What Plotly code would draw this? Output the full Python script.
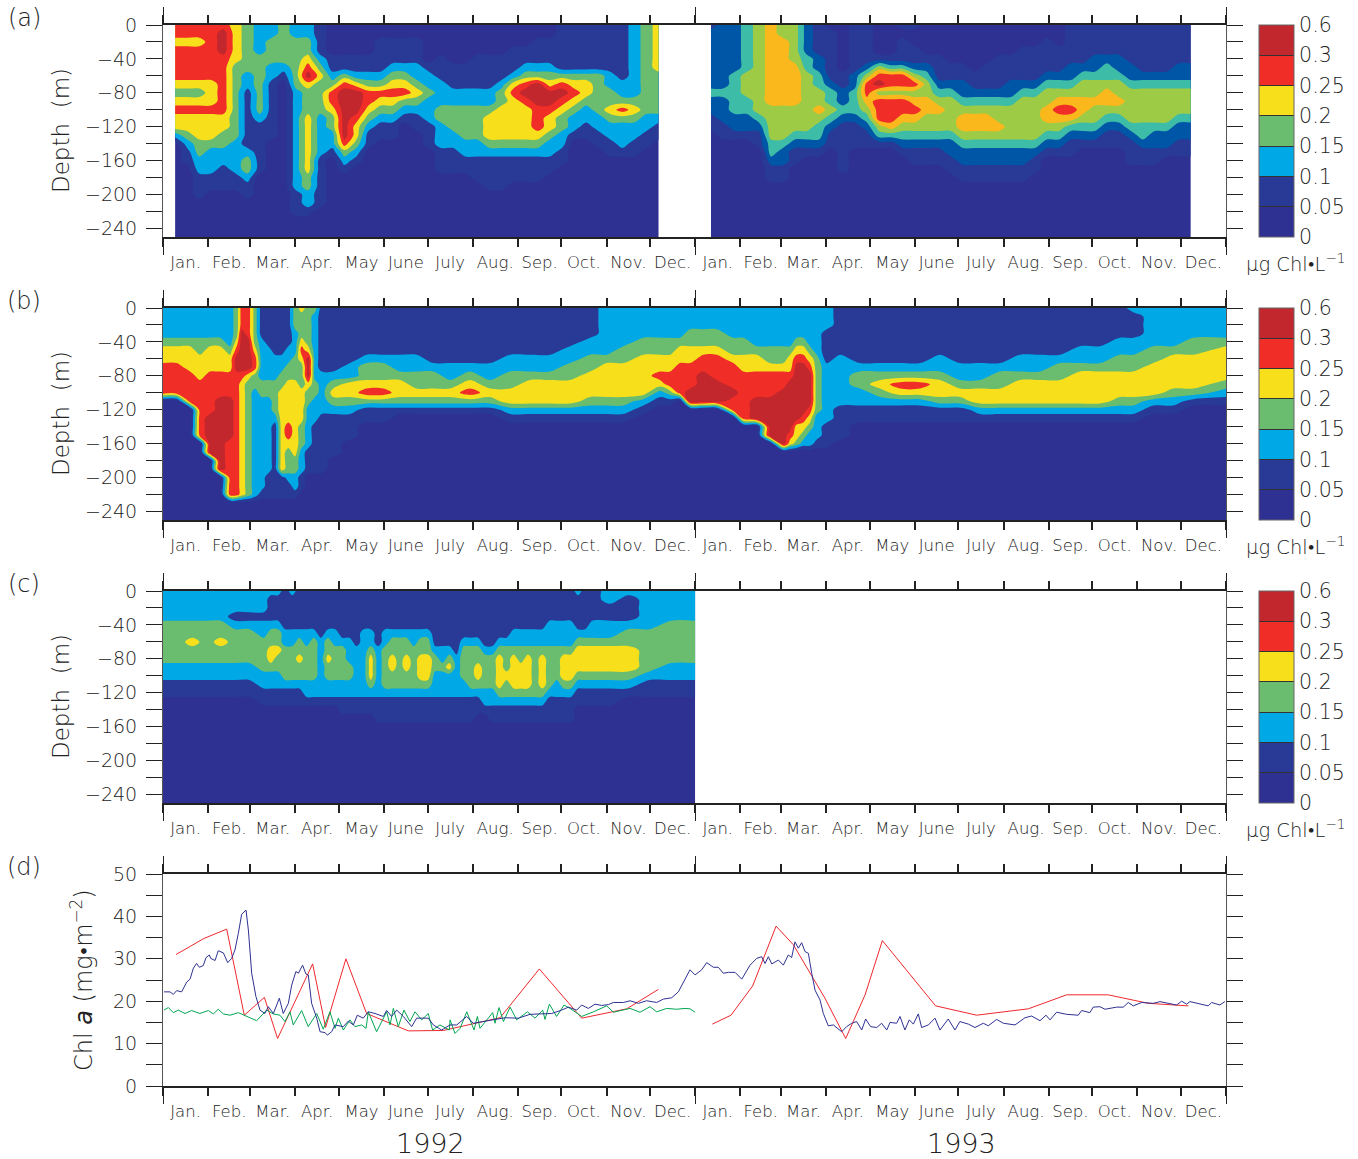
import plotly.graph_objects as go

W, H = 1358, 1159
MONTHS = ["Jan.", "Feb.", "Mar.", "Apr.", "May", "June", "July", "Aug.", "Sep.", "Oct.", "Nov.", "Dec."] * 2
MONTH_START = [0, 31, 60, 91, 121, 152, 182, 213, 244, 274, 305, 335, 366, 397, 425, 456, 486, 517, 547, 578, 609, 639, 670, 700, 731]
YEAR_TICKS = [0, 366, 731]
DEPTHS = [0, -10, -20, -30, -40, -50, -60, -70, -80, -90, -100, -110, -120, -130, -140, -150, -160, -170, -180, -190, -200, -210, -220, -230, -250]
LEVEL_LABELS = ["0", "0.05", "0.1", "0.15", "0.2", "0.25", "0.3", "0.6"]
COLORS = ["#2e3192", "#283a96", "#00a9e6", "#6abd6e", "#f7e01b", "#f02d27", "#c1272d"]
COLORS_A93 = ["#2e3192", "#283a96", "#0056a6", "#3dbca8", "#9ecb45", "#fbb81d", "#f02d27", "#c1272d"]

# Each string is one time column of colour-band indices, top (0 m) to bottom; trailing zeros omitted
DAYS_A92 = [8.3, 16.6, 24.9, 33.2, 41.5, 49.9, 58.2, 66.5, 74.8, 83.1, 91.4, 99.7, 108.1, 116.4, 124.7, 133, 141.3, 149.6, 157.9, 166.3, 174.6, 182.9, 191.2, 199.5, 207.8, 216.1, 224.5, 232.8, 241.1, 249.4, 257.7, 266, 274.3, 282.7, 291, 299.3, 307.6, 315.9, 324.2, 332.5, 340.9]
BANDS_A92 = ["55455554345442", "55455554345443211", "554555543454443322111", "55555554445444322211", "56665555555443322111",
             "44444333333333222211", "333333221111111233211", "222233333332111111", "22333221111111", "3333321",
             "22333333222222222222111", "22334564333444444433221", "1111234333322222111111", "0000112355433221", "000011356666665321",
             "00001124666544321", "000011235543211", "00111123543211", "00111234543211", "001112345321",
             "0011122343211", "000001223222111", "000011122233222111", "000001112233322111", "000001112233332211",
             "0000111122333322111", "00001111223444321111", "00001112334444321111", "0001112454444432111", "0001123565444432111",
             "0011123666555432111", "001112346654432211", "11111135654332211", "11111134543221", "11111134432211",
             "111111333332211", "1111112233432211", "1111111223532221", "2222222223432211", "333333333332211", "44444433333211"]
DAYS_A93 = [376.8, 385.1, 393.3, 401.6, 409.8, 418.1, 426.3, 434.6, 442.8, 451.1, 459.3, 467.6, 475.8, 484.1, 492.3, 500.6, 508.8, 517.1, 525.3, 533.6, 541.8, 550.1, 558.3, 566.6, 574.8, 583.1, 591.3, 599.6, 607.8, 616.1, 624.3, 632.6, 640.8, 649.1, 657.3, 665.6, 673.8, 682.1, 690.3, 698.6, 706.8]
BANDS_A93 = ["1222222232211", "22222222322211", "22222233333221", "33333344433221", "444444444443211",
             "5555555555444433211", "4455555555444432211", "44444555554443211", "2222334444444321", "1111223344543321",
             "011111123343211", "000000112232111111", "111111223332111", "111112466543211", "000014674666431",
             "000013664666531", "1011136646654321", "10011246456543211", "00001234455443211", "00001112345443211",
             "000001123444432211", "0000011223455432211", "0000001123455432211", "0000011123455432211", "0000111123445432211",
             "0000111223444432211", "0001111234444432211", "000111123444443211", "0011112344554321", "0001112345654321",
             "1111122345653211", "111112344554321", "111122344544321", "111123345543211", "111122344543211",
             "11111223444432111", "11111123444433211", "11111123444432211", "1111112344443221", "1111122344432211", "1111122344432211"]
DAYS_B = [0, 9.4, 18.6, 25.4, 32.3, 39.2, 46.1, 50.7, 54.1, 58.7, 63.3, 67.8, 72.4, 77, 81.6, 86.2, 90.8, 95.3, 99.9, 104.5, 109.1, 117.1, 128.6, 140, 151.5, 163, 174.4, 185.9, 197.3,
          211.1, 224.9, 238.7, 252.4, 266.2, 279.9, 293.7, 305.1, 316.6, 330.3, 341.8, 348.7, 355.5, 362.4, 371.6, 380.8, 392.2, 399.1, 408.3, 417.4, 426.6, 431.2, 435.8, 440.4, 444.9, 449.5, 456.4, 465.6, 479.3, 493.1, 506.8,
          520.6, 534.3, 548, 561.8, 575.6, 589.3, 603, 616.8, 630.6, 644.3, 658, 667.2, 681, 694.7, 708.5, 731]
BANDS_B = ["22223445555", "22223445555", "222234445555", "2222334445555555", "222234445555566666", "22223444555666666666",
           "22222344555666665555555", "33334566555555555555555", "55566666544444444444444", "55556666433333333333333",
           "33333455332222222222222", "11112222233222222222221", "11111222233222222222111", "11111122233332111111111",
           "11111122334444444444111", "11111223344444554333211", "33322233344444444433221", "4333454333444433322211",
           "33333466643322222111", "32222222233222111111", "11111111222221111111", "111111112343211111",
           "1111111224432111", "11111123345311", "11111123345311", "1111112234431", "1111112233431", "1111111233431", "1111111223431",
           "1111111234531", "1111111223431", "11111122334421", "11111122344421", "11111122344421", "11111223344421", "11112233444321",
           "22222234444321", "22222334444321", "2222334444421", "222233445421", "222233445531", "22223445555", "222334455566",
           "222334556666", "222334555666", "2222334555655", "22223344555555", "22222344555666", "2222233455566666", "22222334556666666",
           "22222344566666654", "22223456666666443", "22223456666665432", "22222345666654322", "22222233333332221", "22211112222222111",
           "1111112222221111", "11111112332211", "11111112343211", "11111112354211",
           "11111112354211", "11111122344311", "11111112234311", "11111112234421", "11111112334421", "11111122344421", "11111122344421",
           "11111123344421", "11111223444421", "11111223444421", "11112233444321", "21112233444321", "2222233444421", "2222234444321", "222233444431", "222234444321"]
DAYS_C = [0, 10.3, 20.1, 30, 39.8, 49.6, 59.4, 69.3, 74.2, 79.1, 84, 88.9, 93.8, 98.7, 103.6, 108.6, 113.5, 118.4, 123.3, 128.2, 133.1, 138, 142.9, 147.9, 152.8, 157.7, 162.6, 167.5, 172.4, 177.3, 182.2, 187.2, 192.1, 197, 201.9, 206.8, 211.7, 216.6, 221.5, 226.5, 231.4, 236.3, 241.2, 246.1, 251, 255.9, 260.8, 265.8, 270.7, 275.6, 280.5, 285.4, 290.3, 295.2, 307.5, 319.8, 334.5, 349.3, 366]
BANDS_C = ["2222333332211", "2222333332211", "2222334332211", "2222333332211", "2222334332211", "2221233332211", "2221233332211",
           "22212233332211", "21112334432211", "21112334332211", "11111223333211", "21111223333211", "11111233433211", "11111223333221",
           "11111233333221", "11111122222221", "11111233433221", "11111223333221", "111111233332211", "111111222332211", "111111122222211",
           "111112222222211", "111112234443211", "1111111222222111", "1111122333332111", "1111123344332111", "1111123333332111",
           "1111123344332111", "1111122333332111", "1111123344432111", "1111123344432111", "1111111233222111", "1111111223222111",
           "1111111234222111", "1111111122222111", "1111112333322111", "1111112333332111", "111111233443211", "111111123333221",
           "1111111233332211", "1111112344443211", "1111112333433211", "1111122344443211", "1111122334443211", "1111122344443211",
           "1111122333333211", "1111122344443211", "1111222333332111", "1111222333322111", "1111222344432111", "1111222344432111",
           "21111234443211", "11111234443211", "11112234443211", "22112234443211", "2111233444321", "2222233333211", "2222333332211", "2222333332211"]

DAYS_BLUE = [0.7, 4.8, 7.1, 9.4, 12.8, 16.3, 18.6, 20.9, 23.1, 25, 27.7, 29.6, 31.9, 32.8, 35.8, 38, 41.5, 44.5, 47.2, 49.5, 51.8, 54.1, 57.1, 58.7, 61, 63.9, 66.7, 70.1, 72.4, 75.9, 80, 82.7, 86.2, 88.5, 91.4, 93.1, 96, 98.3, 99.9, 102.2, 105.7, 108, 111.4, 113, 116, 118.3, 124, 127.4, 130.9, 133.6, 137.7, 141.2, 145.8, 151.5, 153.8, 157.2, 160.7, 165.3, 171, 174.4, 182.4, 185.9, 191.6,
             197.4, 202, 208.9, 213.4, 220.3, 227.2, 235.2, 244.4, 252.4, 259.3, 267.3, 274.2, 278.8, 284.5, 287.9, 292.5, 297.1, 301.7, 306.3, 309.7, 316.6, 321.2, 326.9, 332.6, 339.5, 344.1, 349.8, 354.4, 359, 362.4, 365.9, 370.4, 373.9, 378.5, 381.9, 385.3, 388.8, 393.4, 398, 403.7, 408.3, 411.7, 414, 416.3, 418.6, 423.2, 426.6, 430, 432.3, 434.6, 436.9, 439.2, 441.5, 443.8, 446.1, 448.4, 451.8, 454.1, 457.5, 461, 466.7, 470.1, 473.6, 477, 480.5, 483.2, 486.6, 490.8, 494.2, 497.7, 500, 504.5,
             506.8, 510.2, 513.2, 516, 519.4, 521.7, 526.3, 530.9, 534.3, 540, 544.6, 548, 553.8, 558.4, 564.1, 567.5, 573.3, 577.9, 585.9, 592.8, 597.3, 603.1, 607.2, 610, 614.5, 621.4, 629.4, 631.7, 637.4, 639.7, 644.3, 647.8, 655.8, 660.4, 663.8, 667.2, 673, 681, 685.6, 697, 700.5, 703.9, 706.2, 718.8, 721.1, 726.8, 730.2]
CHL_BLUE = [22.2, 22.2, 21.6, 22.5, 22.2, 24.5, 25.2, 27.8, 28.9, 28, 28.4, 30.3, 30.9, 30.1, 29.6, 31.9, 31.4, 29.1, 30.1, 32.1, 36, 40.5, 41.5, 36.8, 26.6, 21.1, 17.9, 17.1, 18.7, 17.1, 20.7, 17.1, 19.5, 23.8, 27, 26.6, 28.5, 26.4, 26.2, 19.5, 16, 12.8, 12.6, 12, 12.8, 14.4, 14, 15.3, 14.4, 16.7, 16, 17.5, 17.1, 16.4, 17.8, 16.4, 17.9, 16.4, 14, 16, 16, 14.4, 13.2,
            14.4, 14.4, 16.4, 14.8, 15.2, 15.6, 16.1, 16, 16.9, 17, 17.1, 17.9, 18.6, 17.9, 19.1, 18.3, 19.3, 19, 19.2, 19.7, 19.7, 20.1, 19.5, 20.1, 19.7, 20.5, 20.8, 22.2, 25.4, 27.4, 26.2, 27.4, 29.1, 28, 28, 26.6, 26.8, 26.8, 25.2, 28.5, 30.1, 30.5, 28.9, 30.5, 28.8, 29.7, 28.5, 30.9, 30.3, 34, 32.5, 33.8, 31.7, 31.3, 26.6, 22.6, 20.3, 17.1, 14.2, 14.4, 12.8, 14, 14.8, 15.2, 13.2, 15.8, 14, 13.8, 14.8, 13.2, 15, 14.8,
            16.4, 13.2, 15.6, 14.6, 17, 13.8, 14.4, 16, 13.2, 15.8, 13.2, 15.2, 14.6, 13.8, 14.8, 14.2, 15.7, 14.8, 14.4, 16.1, 16.5, 15.4, 16.7, 15.6, 17.4, 16.9, 16.7, 17.8, 17.3, 18.6, 18.7, 18.1, 18.6, 18.6, 19.7, 18.9, 19.7, 19.5, 19.9, 19.1, 20, 19.3, 19.9, 18.9, 19.7, 19.1, 19.9]
DAYS_RED = [8.9, 28.2, 43.8, 55.9, 69.7, 78.8, 102.9, 111.8, 125.8, 140, 168.7, 192.8, 231.8, 258.8, 287.9, 318.9, 340.7, None,
            377.8, 390.6, 405.5, 421.6, 433.5, 455.2, 469.5, 482.8, 494.7, 531.3, 559.5, 595, 621.4, 650, 677.5, 705.1]
CHL_RED = [31, 34.8, 37, 16.7, 20.9, 11.2, 28.8, 13.8, 30, 17.1, 13, 13.1, 16.1, 27.6, 16, 18.2, 22.8, None,
           14.6, 16.7, 23.6, 37.7, 33.3, 20.7, 11.2, 21.5, 34.3, 18.9, 16.7, 18.2, 21.5, 21.5, 19.5, 18.9]
DAYS_GREEN = [0.7, 3.7, 7.1, 10.5, 15.1, 19.7, 25.4, 31.2, 34.6, 38, 41.5, 46.1, 51.8, 57.5, 64.4, 71.3, 75.9, 80.4, 83.9, 87.3, 89.6, 95.3, 99.9, 105.7, 110.2, 114.8, 118.3, 120.6, 124, 128.6, 132, 136.6, 139.6, 141.2, 146.9, 153.8, 156.1, 158.4, 161.8, 165.7, 169.8, 173.3, 177.9, 182.4, 185.4, 190.5, 196.9,
              197.4, 200.8, 204.3, 208.9, 213.9, 216.2, 218, 226.7, 228.3, 231.1, 234.1, 238.7, 243.2, 250.6, 255.8, 261.1, 262.7, 265.7, 270.7, 275.8, 279.9, 287.9, 296, 305.1, 309.7, 321.2, 328, 334.9, 339.5, 346.4, 353.3, 359, 362.4, 365.9]
CHL_GREEN = [17.9, 18.5, 17.3, 17.9, 17.1, 17.8, 17.1, 17.8, 17, 18.1, 17, 16.7, 17.3, 16.5, 15.4, 17.9, 17, 16.7, 15.2, 17.5, 14.4, 17.8, 14, 17.1, 13.4, 17.5, 13.6, 16, 13.2, 15.6, 14, 14.4, 13.6, 17.5, 12.8, 17.5, 14.4, 18.3, 14, 17.9, 15.2, 17.5, 15.6, 17.1, 13.2, 14.4, 13.2,
             15.6, 12.4, 13.6, 17.5, 13.2, 16.4, 13.6, 17.3, 14.8, 18.5, 15.2, 18.6, 15.6, 17.5, 16, 17.9, 15.7, 19.3, 16.4, 19.1, 18.3, 16.4, 17.5, 18.9, 17.4, 18.3, 17.4, 18.7, 17.5, 18.3, 18.1, 18.3, 18.2, 17.4]

FONT = "DejaVu Sans"
TXT = "#222222"
LINE = "#222222"
TOPS = [25, 308, 591, 874]
PANEL_H = 212
X0, X1 = 163, 1226


def px(x):
    return x / W


def py(y):
    return 1 - y / H


def grid(cols):
    """turn band columns into a depth-by-time matrix; band i sits mid-way between levels i and i+1"""
    filled = [c.ljust(len(DEPTHS), "0") for c in cols]
    return [[int(c[r]) + 0.5 for c in filled] for r in range(len(DEPTHS))]


def scale(colors):
    n = len(colors) - 1
    return [[i / n, c] for i, c in enumerate(colors)]


def contour(days, cols, colors, panel, top=None):
    assert len(days) == len(cols)
    cb = None
    if top is not None:
        cb = dict(thickness=35, thicknessmode="pixels", len=PANEL_H, lenmode="pixels",
                  x=px(1259), xanchor="left", xpad=0, y=py(top), yanchor="top", ypad=0,
                  tickmode="array", tickvals=list(range(8)), ticktext=LEVEL_LABELS,
                  ticks="inside", ticklen=35, tickwidth=1, tickcolor="#333333",
                  outlinewidth=1, outlinecolor="#666666", ticklabelposition="outside",
                  tickfont=dict(family=FONT, size=20.5, color=TXT, weight=200))
    return go.Contour(x=days, y=DEPTHS, z=grid(cols), colorscale=scale(colors), zmin=0, zmax=len(colors),
                      autocontour=False,
                      contours=dict(start=1, end=len(colors) - 1, size=1, coloring="fill", showlines=False),
                      line=dict(width=0), xaxis=f"x{panel}", yaxis=f"y{panel}",
                      showscale=top is not None, colorbar=cb, hoverinfo="skip")


fig = go.Figure()
fig.add_trace(contour(DAYS_A92, BANDS_A92, COLORS, 1, TOPS[0]))
fig.add_trace(contour(DAYS_A93, BANDS_A93, COLORS_A93, 1))
fig.add_trace(contour(DAYS_B, BANDS_B, COLORS, 2, TOPS[1]))
fig.add_trace(contour(DAYS_C, BANDS_C, COLORS, 3, TOPS[2]))
for days, chl, color in [(DAYS_RED, CHL_RED, "#f0282d"), (DAYS_GREEN, CHL_GREEN, "#00a651"), (DAYS_BLUE, CHL_BLUE, "#2e3192")]:
    fig.add_trace(go.Scatter(x=days, y=chl, mode="lines", line=dict(color=color, width=1), xaxis="x4", yaxis="y4",
                             showlegend=False, hoverinfo="skip"))

mids = [(MONTH_START[i] + MONTH_START[i + 1]) / 2 for i in range(24)]
layout = {}
for i, top in enumerate(TOPS):
    n = i + 1
    lab, yr = n + 4, n + 8
    dom = [py(top + PANEL_H), py(top)]
    layout[f"xaxis{n}"] = dict(domain=[px(X0), px(X1)], range=[0, 731], anchor=f"y{n}", tickmode="array", tickvals=MONTH_START,
                               ticks="outside", ticklen=8, tickwidth=1.5, tickcolor=LINE, showticklabels=False,
                               showline=True, linewidth=2, linecolor=LINE, mirror="ticks", showgrid=False, zeroline=False)
    layout[f"xaxis{lab}"] = dict(range=[0, 731], overlaying=f"x{n}", anchor=f"y{n}", side="bottom", tickmode="array",
                                 tickvals=mids, ticktext=MONTHS, ticks="", ticklabelstandoff=13,
                                 tickfont=dict(family=FONT, size=16.5, color=TXT, weight=200), showgrid=False, zeroline=False, showline=False)
    layout[f"xaxis{yr}"] = dict(range=[0, 731], overlaying=f"x{n}", anchor=f"y{n}", side="bottom", tickmode="array",
                                tickvals=YEAR_TICKS, ticks="outside", ticklen=17, tickwidth=1.2, tickcolor=LINE, showticklabels=False,
                                showline=False, mirror="ticks", showgrid=False, zeroline=False)
    if n < 4:
        vals = list(range(-240, 1, 20))
        text = [str(v).replace("-", "\u2212") if v % 40 == 0 else "" for v in vals]
        rng = [-250, 0]
    else:
        vals = list(range(0, 51, 5))
        text = [str(v) if v % 10 == 0 else "" for v in vals]
        rng = [0, 50]
    layout[f"yaxis{n}"] = dict(domain=dom, range=rng, anchor=f"x{n}", tickmode="array", tickvals=vals, ticktext=text,
                               ticks="outside", ticklen=16, tickwidth=1.3, tickcolor=LINE, ticklabelstandoff=5,
                               tickfont=dict(family=FONT, size=19, color=TXT, weight=200),
                               showline=True, linewidth=1, linecolor="#555555", mirror="ticks", showgrid=False, zeroline=False)
    fig.add_trace(go.Scatter(x=[], y=[], xaxis=f"x{lab}", yaxis=f"y{n}", showlegend=False, hoverinfo="skip"))
    fig.add_trace(go.Scatter(x=[], y=[], xaxis=f"x{yr}", yaxis=f"y{n}", showlegend=False, hoverinfo="skip"))

notes = []


def note(text, x, y, size, angle=0):
    notes.append(dict(text=text, xref="paper", yref="paper", x=px(x), y=py(y), xanchor="center", yanchor="middle",
                      showarrow=False, textangle=angle, font=dict(family=FONT, size=size, color=TXT, weight=200)))


for letter, top in zip("abcd", TOPS):
    note(f"({letter})", 24, top - 7, 24)
for top in TOPS[:3]:
    note("Depth  (m)", 61, top + 106, 23, -90)
    note("\u03bcg Chl\u2022L<sup>\u22121</sup>", 1296, top + 238, 19.5)
note("Chl <i>a</i> (mg\u2022m<sup>\u22122</sup>)", 82, 980, 24, -90)
note("1992", 430, 1143, 27)
note("1993", 961, 1143, 27)

fig.update_layout(width=W, height=H, autosize=False, margin=dict(l=0, r=0, t=0, b=0, autoexpand=False), paper_bgcolor="white", plot_bgcolor="white",
                  showlegend=False, annotations=notes, **layout)
fig.write_html("out.html", post_script="document.body.style.margin='0';", config={"displayModeBar": False})
